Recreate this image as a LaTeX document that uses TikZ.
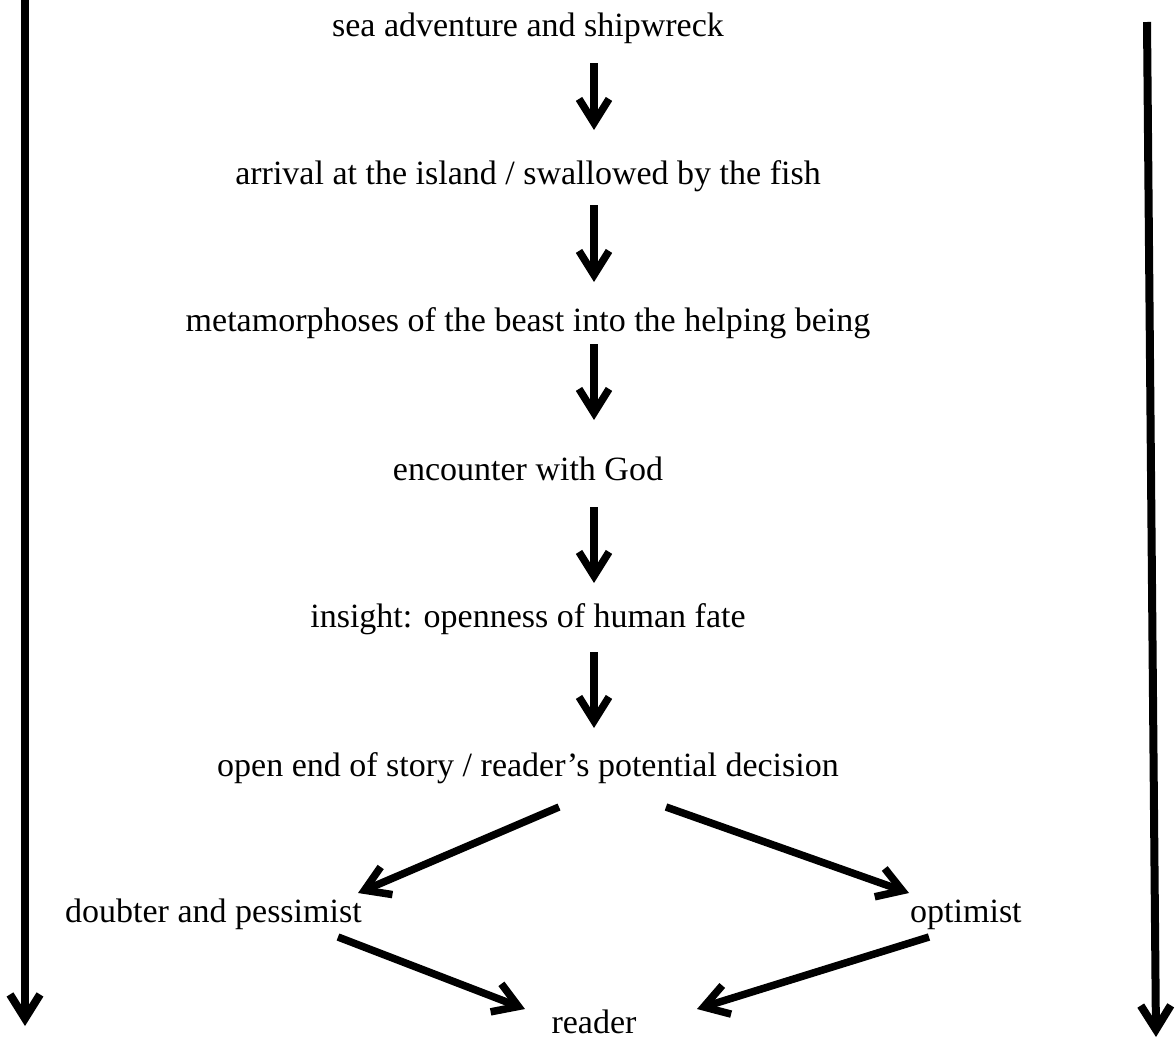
\documentclass[tikz,border=0pt]{standalone}
\usepackage{fontspec}
\setmainfont{Liberation Serif}
\usetikzlibrary{arrows.meta}
\begin{document}
\begin{tikzpicture}[x=1pt,y=-1pt,
  lbl/.style={font=\fontsize{34}{40}\selectfont, inner sep=0pt, anchor=base},
  flow/.style={line width=7.5pt, -{Straight Barb[length=24pt,width=30pt]}},
  side/.style={line width=8pt, -{Straight Barb[length=24pt,width=30pt]}}]
\useasboundingbox (0,0) rectangle (1175,1039);
% text nodes
\node[lbl] (sea) at (528,36) {sea adventure and shipwreck};
\node[lbl] (arr) at (528,184) {arrival at the island / swallowed by the fish};
\node[lbl] (meta) at (528,331) {metamorphoses of the beast into the helping being};
\node[lbl] (enc) at (528,480) {encounter with God};
\node[lbl] (ins) at (528,627) {insight: openness of human fate};
\node[lbl] (open) at (528,776) {open end of story / reader’s potential decision};
\node[lbl, anchor=base west] (doubt) at (65,922) {doubter and pessimist};
\node[lbl, anchor=base west] (opt) at (910,922) {optimist};
\node[lbl] (reader) at (594,1033) {reader};
% connector end points
\coordinate (f1a) at (594,63);  \coordinate (f1b) at (594,130);
\coordinate (f2a) at (594,205); \coordinate (f2b) at (594,282);
\coordinate (f3a) at (594,344); \coordinate (f3b) at (594,420);
\coordinate (f4a) at (594,507); \coordinate (f4b) at (594,583);
\coordinate (f5a) at (594,652); \coordinate (f5b) at (594,728);
\coordinate (l1a) at (559,807); \coordinate (l1b) at (358,893);
\coordinate (r1a) at (666,807); \coordinate (r1b) at (909,893);
\coordinate (l2a) at (338,937); \coordinate (l2b) at (525,1009);
\coordinate (r2a) at (929,937); \coordinate (r2b) at (697,1009);
\coordinate (lsa) at (25,0);    \coordinate (lsb) at (25,1026);
\coordinate (rsa) at (1147,22); \coordinate (rsb) at (1156,1037);
% connectors
\draw[flow] (f1a) -- (f1b);
\draw[flow] (f2a) -- (f2b);
\draw[flow] (f3a) -- (f3b);
\draw[flow] (f4a) -- (f4b);
\draw[flow] (f5a) -- (f5b);
\draw[flow] (l1a) -- (l1b);
\draw[flow] (r1a) -- (r1b);
\draw[flow] (l2a) -- (l2b);
\draw[flow] (r2a) -- (r2b);
\draw[side] (lsa) -- (lsb);
\draw[side] (rsa) -- (rsb);
\end{tikzpicture}
\end{document}
